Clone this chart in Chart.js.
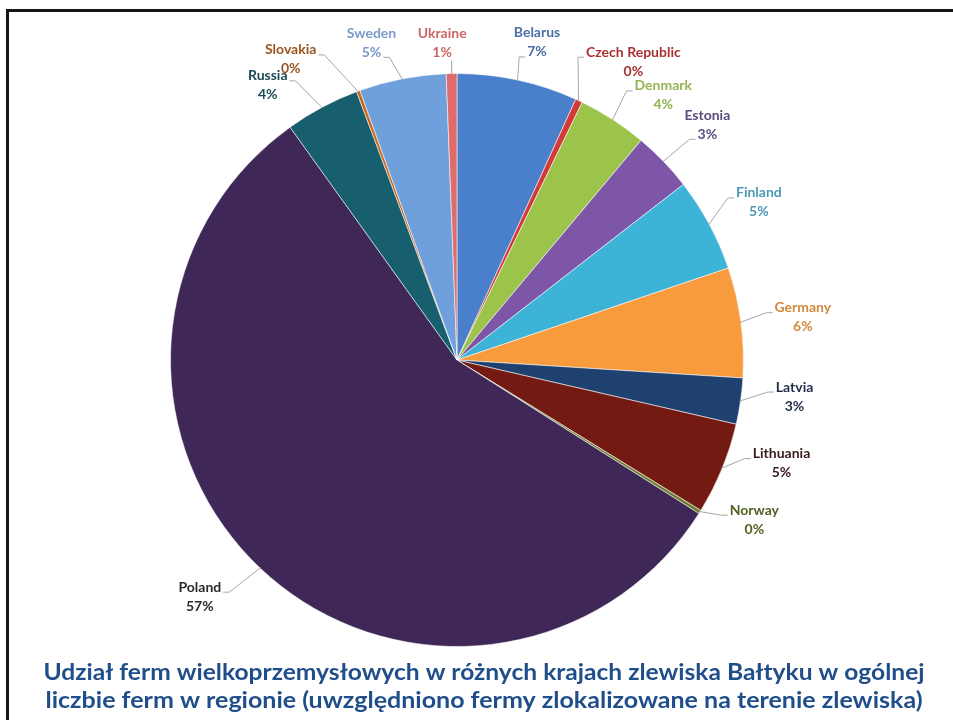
<!DOCTYPE html>
<html><head><meta charset="utf-8">
<script src="https://cdn.jsdelivr.net/npm/chart.js@4.4.1/dist/chart.umd.min.js"></script>
<style>html,body{margin:0;padding:0;background:#fff;}canvas{display:block;}</style>
</head><body>
<canvas id="c" width="953" height="720"></canvas>
<script>
// ---- data ----
const countries = ['Belarus','Czech Republic','Denmark','Estonia','Finland','Germany','Latvia','Lithuania','Norway','Poland','Russia','Slovakia','Sweden','Ukraine'];
const shares = [6.8, 0.4, 3.9, 3.4, 5.3, 6.2, 2.6, 5.2, 0.2, 56.1, 4.2, 0.2, 4.9, 0.6];
const shownPercent = [7, 0, 4, 3, 5, 6, 3, 5, 0, 57, 4, 0, 5, 1];
const titleLines = [
  'Udział ferm wielkoprzemysłowych w różnych krajach zlewiska Bałtyku w ogólnej',
  'liczbie ferm w regionie (uwzględniono fermy zlokalizowane na terenie zlewiska)'
];

// ---- styles ----
const sliceColors = ['#4A7FCC','#D33B3B','#9CC44B','#7D56A7','#3DB4D7','#F89B3C','#1F4170','#731A13','#6E7F2E','#3F2858','#175E6E','#C8691F','#6FA0DC','#E06B6B'];
const labelColors = ['#4B6FA6','#A83232','#93B451','#5B4B80','#4A9AB5','#D4883E','#1F2D4A','#3A1B1B','#4F6222','#2A2A2A','#1B4A55','#9A5520','#7A9ACB','#CC6464'];

const pieLabels = {
  id: 'pieLabels',
  afterDatasetsDraw(chart, args, opts) {
    const ctx = chart.ctx;
    const meta = chart.getDatasetMeta(0);
    ctx.save();
    ctx.font = opts.font;
    ctx.textAlign = 'center';
    ctx.textBaseline = 'middle';
    meta.data.forEach((arc, i) => {
      const p = arc.getProps(['x','y','startAngle','endAngle','outerRadius'], true);
      const mid = (p.startAngle + p.endAngle) / 2;
      const lay = opts.layout[i];
      const la = mid + lay.a * Math.PI / 180;
      const lr = p.outerRadius + lay.r;
      const lx = p.x + Math.cos(la) * lr;
      const ly = p.y + Math.sin(la) * lr;
      const name = chart.data.labels[i];
      const pct = shownPercent[i] + '%';
      const nameY = ly - opts.lineGap / 2;
      const pctY = ly + opts.lineGap / 2;
      const px = p.x + Math.cos(mid) * (p.outerRadius - 1);
      const py = p.y + Math.sin(mid) * (p.outerRadius - 1);
      ctx.strokeStyle = opts.lineColor;
      ctx.lineWidth = 1;
      ctx.beginPath();
      if (lay.at === 'bottom') {
        ctx.moveTo(px, py);
        ctx.lineTo(px, pctY + 8);
      } else {
        const txt = lay.at === 'name' ? name : pct;
        const w = ctx.measureText(txt).width;
        const ay = (lay.at === 'name' ? nameY : pctY) + 5;
        const right = Math.cos(la) > 0;
        const ax = right ? lx - w / 2 - 2 : lx + w / 2 + 2;
        const ex = right ? ax - 6 : ax + 6;
        ctx.moveTo(px, py);
        ctx.lineTo(ex, ay);
        ctx.lineTo(ax, ay);
      }
      ctx.stroke();
      ctx.fillStyle = labelColors[i];
      ctx.fillText(name, lx, nameY);
      ctx.fillText(pct, lx, pctY);
    });
    ctx.restore();
  }
};

const frameTitle = {
  id: 'frameTitle',
  afterDraw(chart, args, opts) {
    const ctx = chart.ctx;
    ctx.save();
    ctx.fillStyle = '#151515';
    ctx.fillRect(6, 9, chart.width - 6, 3);
    ctx.fillRect(6, 9, 3, chart.height - 9);
    ctx.font = opts.font;
    ctx.fillStyle = opts.color;
    ctx.textAlign = 'center';
    ctx.textBaseline = 'alphabetic';
    titleLines.forEach((t, k) => {
      const w = ctx.measureText(t).width;
      const s = opts.widths[k] / w;
      ctx.save();
      ctx.translate(opts.centerX, opts.baselines[k]);
      ctx.scale(s, 1);
      ctx.fillText(t, 0, 0);
      ctx.restore();
    });
    ctx.restore();
  }
};

new Chart(document.getElementById('c'), {
  type: 'pie',
  data: {
    labels: countries,
    datasets: [{
      data: shares,
      backgroundColor: sliceColors,
      borderColor: 'rgba(255,255,255,0.55)',
      borderWidth: 1
    }]
  },
  options: {
    responsive: false,
    animation: false,
    devicePixelRatio: 1,
    layout: { padding: { top: 73, bottom: 73, left: 170, right: 209 } },
    plugins: {
      legend: { display: false },
      tooltip: { enabled: false },
      pieLabels: {
        font: 'bold 14px Lato',
        lineGap: 19,
        lineColor: '#A6A6A6',
        layout: [
          { a: 1.9, r: 41, at: 'pct' },
          { a: 5.4, r: 60, at: 'name' },
          { a: 5.0, r: 49, at: 'name' },
          { a: 0.7, r: 57, at: 'pct' },
          { a: 0.7, r: 54, at: 'name' },
          { a: 0.5, r: 62, at: 'name' },
          { a: -2.1, r: 53, at: 'name' },
          { a: -4.7, r: 54, at: 'name' },
          { a: -3.8, r: 51, at: 'name' },
          { a: 4.0, r: 63, at: 'name' },
          { a: -6.5, r: 47, at: 'name' },
          { a: -8.8, r: 57, at: 'name' },
          { a: -4.1, r: 42, at: 'pct' },
          { a: -1.6, r: 31, at: 'bottom' }
        ]
      },
      frameTitle: {
        font: 'bold 23px Lato',
        color: '#1F4E8A',
        centerX: 484,
        widths: [881, 877],
        baselines: [680, 708]
      }
    }
  },
  plugins: [pieLabels, frameTitle]
});
</script>
</body></html>
